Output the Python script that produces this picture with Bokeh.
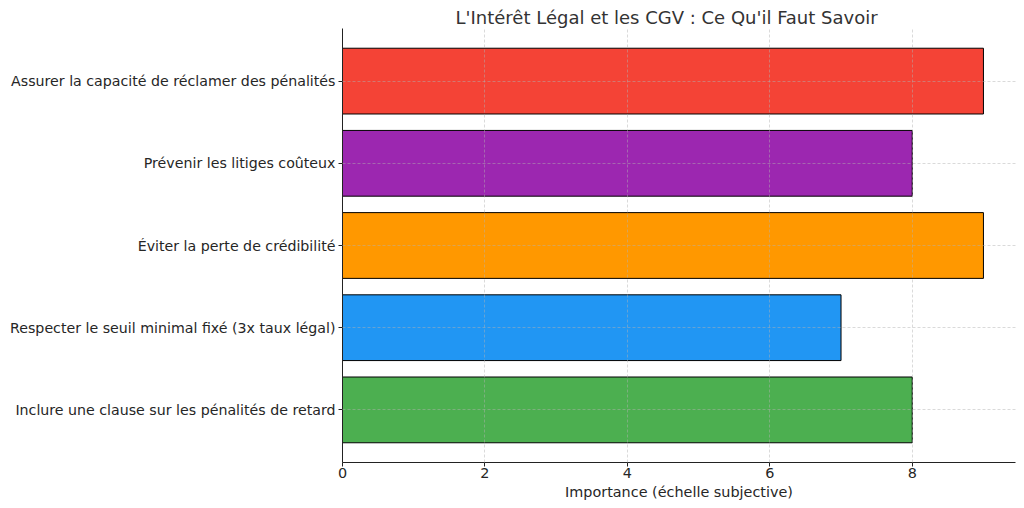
from bokeh.plotting import figure
from bokeh.models import Range1d, FixedTicker, ColumnDataSource
from bokeh.embed import file_html
from bokeh.resources import INLINE

categories = [
    "Inclure une clause sur les pénalités de retard",
    "Respecter le seuil minimal fixé (3x taux légal)",
    "Éviter la perte de crédibilité",
    "Prévenir les litiges coûteux",
    "Assurer la capacité de réclamer des pénalités",
]
values = [8, 7, 9, 8, 9]
colors = ["#4CAF50", "#2196F3", "#FF9800", "#9C27B0", "#F44336"]
x_ticks = [0, 2, 4, 6, 8]

title = "L'Intérêt Légal et les CGV : Ce Qu'il Faut Savoir"
x_label = "Importance (échelle subjective)"

FONT = "DejaVu Sans"
TXT = "#262626"

src = ColumnDataSource(dict(cat=categories, val=values, color=colors))

p = figure(
    width=1016, height=502,
    y_range=categories,
    x_range=Range1d(0, 9.45),
    output_backend="svg", toolbar_location=None,
    min_border_left=342, min_border_right=1, min_border_top=28, min_border_bottom=40,
    title=title,
)
p.y_range.range_padding = 0.14
p.y_range.range_padding_units = "absolute"

p.hbar(y="cat", right="val", left=0, height=0.8, fill_color="color",
       line_color="black", line_width=1, source=src)

p.title.align = "left"
p.title.offset = 113
p.title.text_font = FONT
p.title.text_font_size = "18px"
p.title.text_font_style = "normal"
p.title.text_color = "#333333"
p.title.standoff = 2

p.outline_line_color = None

xa = p.xaxis[0]
xa.ticker = FixedTicker(ticks=x_ticks)
xa.axis_label = x_label
xa.axis_label_text_font = FONT
xa.axis_label_text_font_size = "14.4px"
xa.axis_label_text_font_style = "normal"
xa.axis_label_text_color = TXT
xa.axis_label_standoff = 3
xa.major_label_text_font = FONT
xa.major_label_text_font_size = "14.4px"
xa.major_label_text_color = TXT
xa.major_label_standoff = 1
xa.minor_tick_line_color = None
xa.major_tick_out = 4
xa.major_tick_in = 0
xa.axis_line_color = "#222222"
xa.major_tick_line_color = "#222222"

ya = p.yaxis[0]
ya.major_label_text_font = FONT
ya.major_label_text_font_size = "14.2px"
ya.major_label_text_color = TXT
ya.major_label_standoff = 3
ya.major_tick_out = 4
ya.major_tick_in = 0
ya.axis_line_color = "#222222"
ya.major_tick_line_color = "#222222"

for g in (p.xgrid[0], p.ygrid[0]):
    g.grid_line_color = "#b0b0b0"
    g.grid_line_alpha = 0.6
    g.grid_line_dash = "3 2"
    g.grid_line_width = 0.8
    g.level = "overlay"

open("out.html", "w").write(file_html(p, INLINE))
